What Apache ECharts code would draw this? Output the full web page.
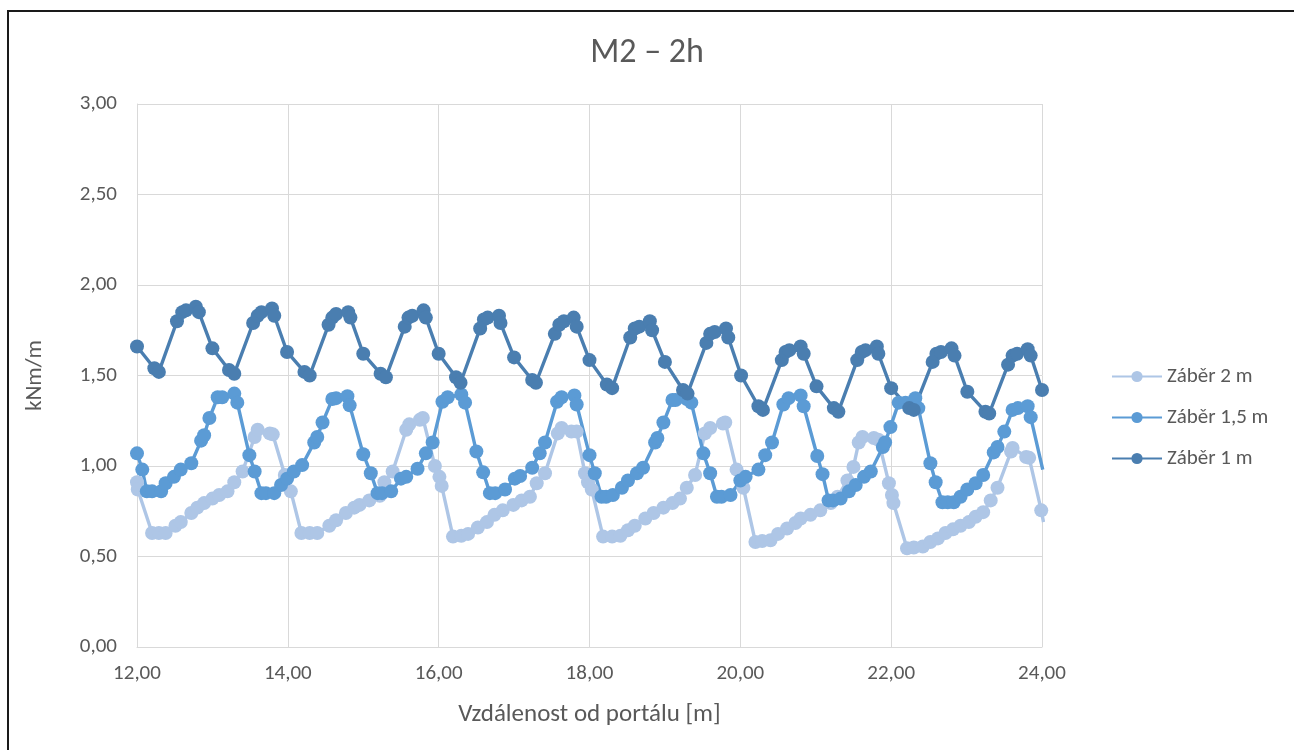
<!DOCTYPE html>
<html>
<head>
<meta charset="utf-8">
<script src="https://cdn.jsdelivr.net/npm/echarts@6/dist/echarts.min.js"></script>
<style>
  html, body { margin: 0; padding: 0; background: #fff; overflow: hidden; }
  #frame { position: absolute; left: 7px; top: 10px; width: 1400px; height: 900px; border: 2px solid #1a1a1a; box-sizing: border-box; }
  #chart { position: absolute; left: 0; top: 0; width: 1294px; height: 750px; }
</style>
</head>
<body>
<div id="frame"></div>
<div id="chart"></div>
<script>
// Bending moment along the tunnel for three excavation steps (distance from portal, kNm/m)
const title = 'M2 – 2h';
const xName = 'Vzdálenost od portálu [m]';
const yName = 'kNm/m';
const seriesNames = ['Záběr 2 m', 'Záběr 1,5 m', 'Záběr 1 m'];
const seriesColors = ['#AEC6E6', '#5B9BD5', '#4A7EB0'];

// Záběr 2 m
const x2 = [12.00,12.01,12.20,12.29,12.38,12.51,12.58,12.72,12.80,12.89,13.00,13.09,13.20,13.29,13.40,13.56,13.60,13.76,13.80,
  13.96,14.04,14.18,14.29,14.39,14.55,14.64,14.77,14.88,14.95,15.08,15.22,15.28,15.39,15.57,15.61,15.75,15.79,
  15.95,16.01,16.04,16.19,16.30,16.39,16.52,16.64,16.74,16.85,16.99,17.10,17.21,17.30,17.41,17.58,17.63,17.76,17.83,
  17.94,17.98,18.03,18.18,18.30,18.41,18.51,18.60,18.74,18.85,18.98,19.10,19.20,19.29,19.40,19.53,19.60,19.77,19.80,
  19.95,20.03,20.04,20.20,20.29,20.40,20.50,20.62,20.73,20.80,20.93,21.06,21.20,21.29,21.42,21.50,21.57,21.62,21.77,21.83,
  21.97,22.01,22.03,22.21,22.30,22.42,22.52,22.62,22.72,22.82,22.92,23.03,23.12,23.22,23.32,23.41,23.59,23.61,23.79,23.83,
  23.99,24.02];
const y2 = [0.91,0.87,0.63,0.63,0.63,0.67,0.69,0.74,0.77,0.795,0.82,0.84,0.86,0.91,0.97,1.16,1.20,1.18,1.175,
  0.95,0.86,0.63,0.63,0.63,0.67,0.70,0.74,0.77,0.785,0.81,0.835,0.91,0.97,1.20,1.23,1.255,1.265,
  1.00,0.94,0.89,0.61,0.615,0.625,0.66,0.69,0.73,0.755,0.785,0.81,0.83,0.905,0.96,1.18,1.21,1.19,1.19,
  0.96,0.91,0.87,0.61,0.61,0.615,0.645,0.67,0.71,0.74,0.77,0.795,0.82,0.88,0.95,1.18,1.21,1.235,1.24,
  0.98,0.94,0.88,0.58,0.585,0.59,0.625,0.655,0.685,0.71,0.73,0.755,0.795,0.83,0.92,0.995,1.13,1.16,1.155,1.145,
  0.905,0.84,0.795,0.545,0.55,0.555,0.58,0.60,0.63,0.65,0.67,0.69,0.72,0.745,0.81,0.88,1.08,1.10,1.05,1.045,
  0.755,0.69];

// Záběr 1,5 m
const x15 = [12.00,12.07,12.13,12.20,12.32,12.38,12.49,12.58,12.72,12.85,12.89,12.96,13.07,13.13,13.29,13.33,
  13.49,13.56,13.65,13.71,13.82,13.91,13.99,14.08,14.19,14.35,14.39,14.46,14.59,14.64,14.79,14.82,
  15.00,15.10,15.19,15.25,15.37,15.50,15.57,15.72,15.83,15.92,16.05,16.12,16.30,16.35,
  16.50,16.59,16.68,16.75,16.88,17.01,17.08,17.24,17.34,17.41,17.57,17.63,17.80,17.83,
  18.00,18.07,18.16,18.22,18.31,18.43,18.51,18.63,18.71,18.87,18.90,18.98,19.10,19.14,19.29,19.35,
  19.51,19.60,19.69,19.75,19.87,20.00,20.07,20.24,20.33,20.42,20.57,20.64,20.80,20.84,
  21.02,21.09,21.17,21.23,21.33,21.44,21.53,21.64,21.73,21.89,21.92,21.99,22.10,22.19,22.32,22.36,
  22.52,22.59,22.68,22.75,22.83,22.92,23.01,23.12,23.22,23.36,23.41,23.50,23.61,23.68,23.81,23.85,
  24.01];
const y15 = [1.07,0.98,0.86,0.86,0.86,0.905,0.94,0.98,1.015,1.14,1.17,1.265,1.38,1.38,1.40,1.35,
  1.06,0.97,0.85,0.85,0.85,0.895,0.93,0.97,1.005,1.13,1.16,1.24,1.37,1.375,1.385,1.335,
  1.065,0.96,0.85,0.85,0.86,0.93,0.94,0.985,1.07,1.13,1.355,1.38,1.395,1.35,
  1.08,0.965,0.85,0.85,0.87,0.93,0.945,0.99,1.07,1.13,1.355,1.38,1.39,1.34,
  1.06,0.96,0.83,0.83,0.84,0.88,0.92,0.96,0.99,1.13,1.155,1.24,1.365,1.365,1.37,1.35,
  1.07,0.96,0.83,0.83,0.84,0.92,0.94,0.98,1.06,1.13,1.34,1.375,1.39,1.33,
  1.055,0.955,0.81,0.81,0.82,0.86,0.895,0.94,0.97,1.105,1.13,1.215,1.35,1.35,1.375,1.32,
  1.015,0.91,0.80,0.80,0.80,0.83,0.87,0.905,0.95,1.075,1.105,1.19,1.31,1.32,1.33,1.27,
  0.98];

// Záběr 1 m
const x1 = [12.00,12.23,12.29,12.53,12.60,12.65,12.78,12.82,13.00,13.22,13.29,13.54,13.60,13.65,13.79,13.82,
  13.99,14.22,14.29,14.54,14.59,14.64,14.80,14.83,15.00,15.23,15.30,15.55,15.60,15.65,15.80,15.83,
  16.00,16.23,16.29,16.55,16.60,16.65,16.80,16.82,17.00,17.24,17.29,17.54,17.60,17.66,17.79,17.83,
  18.00,18.23,18.30,18.54,18.60,18.66,18.80,18.83,19.00,19.24,19.30,19.55,19.60,19.66,19.81,19.84,
  20.01,20.24,20.30,20.55,20.60,20.65,20.80,20.84,21.01,21.24,21.30,21.55,21.61,21.66,21.81,21.83,
  22.00,22.24,22.30,22.55,22.60,22.66,22.80,22.84,23.01,23.25,23.30,23.55,23.61,23.67,23.81,23.85,
  24.00];
const y1 = [1.66,1.54,1.52,1.80,1.85,1.86,1.88,1.85,1.65,1.53,1.51,1.79,1.83,1.85,1.87,1.83,
  1.63,1.52,1.50,1.78,1.82,1.84,1.85,1.82,1.62,1.51,1.49,1.77,1.82,1.83,1.86,1.82,
  1.62,1.49,1.46,1.76,1.81,1.82,1.83,1.79,1.60,1.475,1.46,1.73,1.78,1.80,1.82,1.77,
  1.585,1.45,1.43,1.71,1.76,1.77,1.80,1.75,1.575,1.42,1.40,1.68,1.73,1.74,1.76,1.71,
  1.50,1.33,1.31,1.585,1.63,1.64,1.66,1.62,1.44,1.32,1.30,1.585,1.63,1.64,1.66,1.62,
  1.43,1.32,1.31,1.575,1.62,1.63,1.65,1.61,1.41,1.30,1.29,1.56,1.61,1.62,1.645,1.61,
  1.42];

const xTicks = { min: 12, max: 24, interval: 2 };
const yTicks = { min: 0, max: 3, interval: 0.5 };

const FONT = 'Carlito, Lato, "Open Sans", sans-serif';
const TEXT = '#595959';
const fmt = v => v.toFixed(2).replace('.', ',');
const pairs = (xs, ys) => xs.map((x, i) => [x, ys[i]]);

const chart = echarts.init(document.getElementById('chart'), null, { renderer: 'canvas' });
chart.setOption({
  animation: false,
  backgroundColor: 'transparent',
  textStyle: { fontFamily: FONT },
  title: {
    text: title, left: 'center', top: 31,
    textStyle: { fontFamily: FONT, fontSize: 34, fontWeight: 'normal', color: TEXT }
  },
  legend: {
    orient: 'vertical', left: 1106, top: 361, itemGap: 20,
    itemWidth: 50, itemHeight: 14,
    textStyle: { fontFamily: FONT, fontSize: 21, color: TEXT },
    data: seriesNames
  },
  grid: { left: 137, right: 252, top: 104, bottom: 103, containLabel: false },
  xAxis: {
    type: 'value', min: xTicks.min, max: xTicks.max, interval: xTicks.interval,
    name: xName, nameLocation: 'middle', nameGap: 55,
    nameTextStyle: { fontFamily: FONT, fontSize: 25, color: TEXT },
    axisLine: { show: true, lineStyle: { color: '#D9D9D9', width: 1 } },
    axisTick: { show: false },
    axisLabel: { formatter: fmt, margin: 16, fontFamily: FONT, fontSize: 21, color: TEXT },
    splitLine: { show: true, lineStyle: { color: '#D9D9D9', width: 1 } }
  },
  yAxis: {
    type: 'value', min: yTicks.min, max: yTicks.max, interval: yTicks.interval,
    name: yName, nameLocation: 'middle', nameGap: 90,
    nameTextStyle: { fontFamily: FONT, fontSize: 23, color: TEXT },
    axisLine: { show: true, lineStyle: { color: '#D9D9D9', width: 1 } },
    axisTick: { show: false },
    axisLabel: { formatter: fmt, margin: 20, fontFamily: FONT, fontSize: 21, color: TEXT },
    splitLine: { show: true, lineStyle: { color: '#D9D9D9', width: 1 } }
  },
  series: [[x2, y2], [x15, y15], [x1, y1]].map(([xs, ys], i) => ({
    name: seriesNames[i],
    type: 'line',
    data: pairs(xs, ys),
    clip: true,
    symbol: 'circle',
    symbolSize: 14,
    showAllSymbol: true,
    color: seriesColors[i],
    lineStyle: { color: seriesColors[i], width: 3.4 },
    itemStyle: { color: seriesColors[i], borderWidth: 0 }
  }))
});
</script>
</body>
</html>
